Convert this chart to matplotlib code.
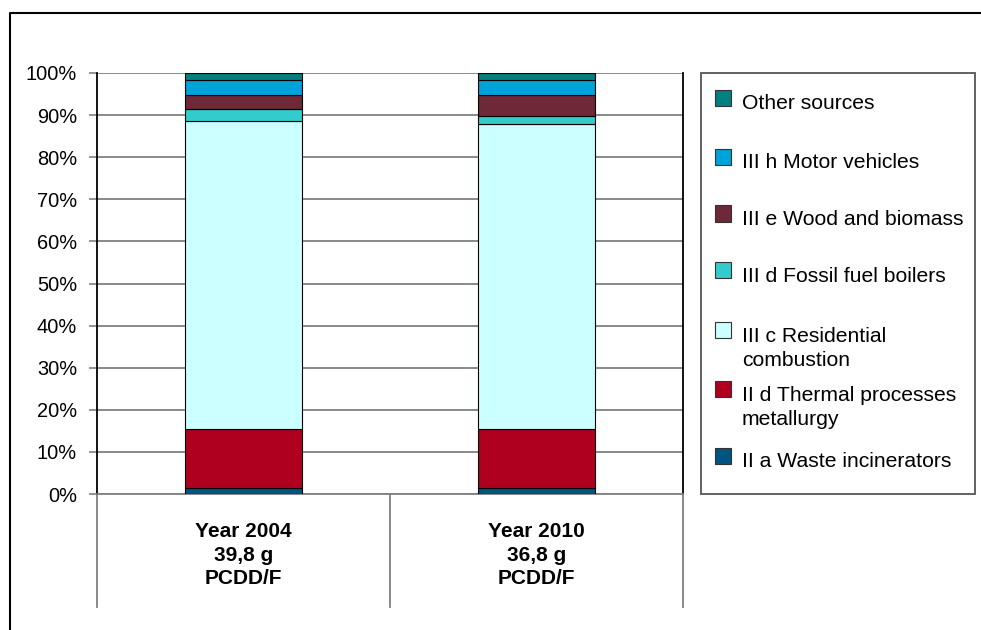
import matplotlib
matplotlib.use("Agg")
import matplotlib.pyplot as plt
from matplotlib.patches import Rectangle
from matplotlib.lines import Line2D
import matplotlib.transforms as mtransforms

plt.rcParams['font.family'] = ['Liberation Sans', 'DejaVu Sans']

# PCDD/F emission shares (%) per source, stacked bottom to top
categories = ['Year 2004\n39,8 g\nPCDD/F', 'Year 2010\n36,8 g\nPCDD/F']
sources = ['II a Waste incinerators',
           'II d Thermal processes\nmetallurgy',
           'III c Residential\ncombustion',
           'III d Fossil fuel boilers',
           'III e Wood and biomass',
           'III h Motor vehicles',
           'Other sources']
waste = [1.5, 1.5]
thermal = [13.9, 13.9]
residential = [73.1, 72.6]
fossil = [3.0, 1.8]
wood = [3.2, 4.9]
motor = [3.6, 3.6]
other = [1.7, 1.7]
shares = [waste, thermal, residential, fossil, wood, motor, other]
colors = ['#005480', '#B0001F', '#CCFFFF', '#33CCCC', '#6E2838', '#00A2DA', '#008080']
yticks = list(range(0, 101, 10))

W, H = 981, 630
fig = plt.figure(figsize=(W / 100, H / 100), dpi=100)


def fx(px):
    return px / W


def fy(py):
    return 1 - py / H


ax = fig.add_axes([fx(97), fy(494), fx(683) - fx(97), fy(73) - fy(494)])

x = list(range(len(categories)))
bottom = [0.0] * len(categories)
for vals, col, lab in zip(shares, colors, sources):
    ax.bar(x, vals, width=0.4, bottom=bottom, color=col, edgecolor='black',
           linewidth=0.8, zorder=3, label=lab)
    bottom = [b + v for b, v in zip(bottom, vals)]

ax.set_xlim(-0.5, len(categories) - 0.5)
ax.set_ylim(0, 100)
ax.set_yticks(yticks)
ax.set_yticklabels([f"{v}%" for v in yticks], fontsize=14.4)
ax.tick_params(axis='y', length=6, width=1.2, color='#808080', pad=8.4)
ax.set_xticks([])
ax.yaxis.grid(True, color='#808080', linewidth=1.3, zorder=0)
ax.set_axisbelow(True)
ax.spines['top'].set_visible(False)
ax.spines['left'].set_color('black')
ax.spines['left'].set_linewidth(1.3)
ax.spines['right'].set_color('black')
ax.spines['right'].set_linewidth(1.3)
ax.spines['bottom'].set_color('#808080')
ax.spines['bottom'].set_linewidth(1.3)

LINE = 24.3  # pixel distance between text lines

# category separators below the axis and the category texts
trans = mtransforms.blended_transform_factory(ax.transData, ax.transAxes)
drop = (607 - 494) / (494 - 73)
for xv in [i - 0.5 for i in range(len(categories) + 1)]:
    ax.plot([xv, xv], [0, -drop], transform=trans, color='#808080',
            linewidth=1.3, clip_on=False)
for xi, cat in zip(x, categories):
    last = 535.7 + cat.count('\n') * LINE
    ax.text(xi, -(last - 494) / (494 - 73), cat, transform=trans,
            ha='center', va='baseline', fontsize=15, fontweight='bold',
            linespacing=1.32, multialignment='center')

# legend box
fig.add_artist(Rectangle((fx(701), fy(494)), fx(975) - fx(701), fy(73) - fy(494),
                         transform=fig.transFigure, facecolor='none',
                         edgecolor='#555555', linewidth=1.3))
baselines = [109.3, 168.3, 225, 281.7, 341.7, 400.7, 467.3]
for base, lab, col in zip(baselines, sources[::-1], colors[::-1]):
    fig.add_artist(Rectangle((fx(715), fy(base - 3.5)), fx(731) - fx(715),
                             fy(base - 19.5) - fy(base - 3.5),
                             transform=fig.transFigure, facecolor=col,
                             edgecolor='#333333', linewidth=0.8))
    fig.text(fx(742), fy(base + lab.count('\n') * LINE), lab, ha='left',
             va='baseline', fontsize=15.2, linespacing=1.32)

# outer chart frame
fig.add_artist(Line2D([fx(10), fx(10), fx(W + 5)], [fy(H + 5), fy(13), fy(13)],
                      transform=fig.transFigure, color='black', linewidth=1.5))

fig.savefig('out.png', dpi=100)
